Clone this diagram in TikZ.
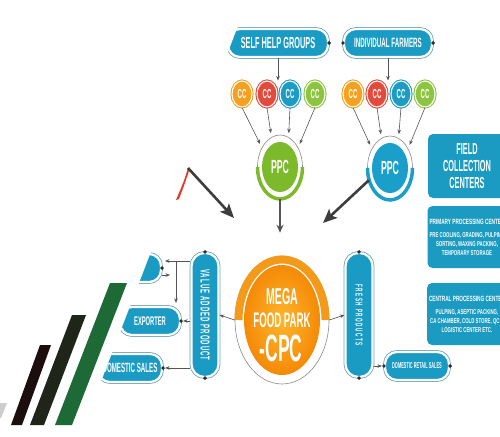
\documentclass[tikz,border=0pt]{standalone}
\usepackage{fontspec}
\usepackage{graphicx}
\usepackage{tikz}
\usetikzlibrary{arrows.meta,shapes.geometric}
\newfontfamily\condfont[FakeStretch=0.46]{Liberation Sans}
\newfontfamily\slimfont[FakeStretch=0.62]{Liberation Sans}
\definecolor{PillTeal}{HTML}{1A9BC4}
\definecolor{PillEdge}{HTML}{6FA3B5}
\definecolor{BoxTeal}{HTML}{1B9BC2}
\definecolor{CCOrange}{HTML}{F5A01E}
\definecolor{CCRed}{HTML}{E4493B}
\definecolor{CCBlue}{HTML}{1C9CC4}
\definecolor{CCGreen}{HTML}{8CC33F}
\definecolor{PPCGreen}{HTML}{7CBA2C}
\definecolor{PPCBlue}{HTML}{1A9FCB}
\definecolor{HubLight}{HTML}{FDB52B}
\definecolor{HubDeep}{HTML}{F58A07}
\definecolor{HubBand}{HTML}{F39A1A}
\definecolor{RingGray}{HTML}{8A8A8A}
\definecolor{LinkGray}{HTML}{555555}
\definecolor{HeavyInk}{HTML}{3D3D3D}
\definecolor{DotInk}{HTML}{2E2E2E}
\definecolor{AccentRed}{HTML}{E23B2A}
\definecolor{StripeGreen}{HTML}{1D6A36}
\definecolor{StripeDark}{HTML}{1F2519}
\definecolor{StripeBlack}{HTML}{1B0E0C}
\definecolor{StripeGray}{HTML}{CDCDCD}
\newcommand{\PillFont}[1]{\condfont\bfseries\fontsize{#1}{#1}\selectfont}
\newcommand{\BoxFont}{\slimfont\bfseries\fontsize{7}{9}\selectfont}
\newcommand{\SideLabel}[3]{\rotatebox{-90}{\PillFont{#1}\addfontfeatures{LetterSpace=#2}#3}}
\tikzset{
  diagram/.style={x=1pt,y=-1pt,text=white,>={Stealth[length=4.5pt,width=3.6pt]}},
  pill/.style={rectangle,rounded corners=12pt,fill=PillTeal,draw=white,line width=2.2pt,
    preaction={draw=PillEdge,line width=3.8pt},minimum height=28pt,inner sep=0pt},
  sidepill/.style={pill,rounded corners=13pt,minimum width=27pt,minimum height=124pt},
  ccnode/.style={ellipse,fill=#1,draw=white,line width=1.1pt,preaction={draw=#1,line width=3.2pt},
    minimum width=20pt,minimum height=26pt,inner sep=0pt,font=\PillFont{13}},
  ppcdisc/.style={ellipse,fill=#1,minimum width=36pt,minimum height=50pt,inner sep=0pt,font=\PillFont{19}},
  ring/.style={ellipse,draw=RingGray,line width=0.6pt,inner sep=0pt},
  infobox/.style={rectangle,rounded corners=5pt,fill=BoxTeal,minimum width=78pt,align=center,inner sep=2pt},
  dot/.style={circle,fill=DotInk,inner sep=0pt,minimum size=3.8pt},
  link/.style={->,draw=LinkGray,line width=0.6pt},
  heavy/.style={-{Stealth[length=14pt,width=12pt,inset=3pt]},draw=HeavyInk,line width=2.6pt},
}
\begin{document}
\begin{tikzpicture}[diagram]
  \useasboundingbox (0,0) rectangle (500,436);
  \clip (0,0) rectangle (500,436);

  % sources
  \node[pill,minimum width=100pt,font=\PillFont{16}] (shg) at (278,43) {SELF HELP GROUPS};
  \node[pill,minimum width=88pt,font=\PillFont{13.5}] (farmers) at (388,43) {INDIVIDUAL FARMERS};
  \node[dot] (shgdot) at (shg.east) {};
  \node[dot] (farmdotL) at (farmers.west) {};
  \node[dot] (farmdotR) at (farmers.east) {};

  % collection centres
  \node[ccnode=CCOrange] (ccA1) at (242,94) {CC};
  \node[ccnode=CCRed] (ccA2) at (267,94) {CC};
  \node[ccnode=CCBlue] (ccA3) at (290,94) {CC};
  \node[ccnode=CCGreen] (ccA4) at (315,94) {CC};
  \node[ccnode=CCOrange] (ccB1) at (353,94) {CC};
  \node[ccnode=CCRed] (ccB2) at (377,94) {CC};
  \node[ccnode=CCBlue] (ccB3) at (401,94) {CC};
  \node[ccnode=CCGreen] (ccB4) at (425,94) {CC};
  \draw[link] (shg.south) -- (shg.south |- ccA2.north);
  \draw[link] (farmers.south) -- (farmers.south |- ccB1.north);

  % primary processing centres
  \node[ppcdisc=PPCGreen] (ppcA) at (280,167) {PPC};
  \node[ring,minimum width=45pt,minimum height=64pt] (ppcAring) at (ppcA) {};
  \draw[PPCGreen,line width=3.5pt] ([shift={(0:22.5)}]ppcA.center) arc[start angle=0,end angle=180,x radius=22.5,y radius=32];
  \node[ppcdisc=PPCBlue] (ppcB) at (390,168) {PPC};
  \node[ring,minimum width=45pt,minimum height=64pt] (ppcBring) at (ppcB) {};
  \draw[PPCBlue,line width=3.5pt] ([shift={(0:22.5)}]ppcB.center) arc[start angle=0,end angle=180,x radius=22.5,y radius=32];

  \draw[link,shorten >=4pt] (ccA1.south) -- (ppcAring.133);
  \draw[link,shorten >=4pt] (ccA2.south) -- (ppcAring.106);
  \draw[link,shorten >=4pt] (ccA3.south) -- (ppcAring.74);
  \draw[link,shorten >=4pt] (ccA4.south) -- (ppcAring.47);
  \draw[link,shorten >=4pt] (ccB1.south) -- (ppcBring.133);
  \draw[link,shorten >=4pt] (ccB2.south) -- (ppcBring.106);
  \draw[link,shorten >=4pt] (ccB3.south) -- (ppcBring.74);
  \draw[link,shorten >=4pt] (ccB4.south) -- (ppcBring.47);

  % central processing centre
  \node[ring,minimum width=94pt,minimum height=128pt] (cpcring) at (282,320) {};
  \node[ellipse,inner color=HubLight,outer color=HubDeep,minimum width=76pt,minimum height=110pt] (cpc) at (282,320) {};
  \draw[HubBand,line width=8pt] ([shift={(180:43.5)}]cpc.center) arc[start angle=180,end angle=360,x radius=43.5,y radius=60.5];
  \node[font=\PillFont{23}] (cpcline1) at (282,297) {MEGA};
  \node[font=\PillFont{21}] (cpcline2) at (282,320) {FOOD PARK};
  \node[font=\PillFont{38}] (cpcline3) at (281,348) {-CPC};

  \draw[link,line width=1.3pt,-{Stealth[length=8pt,width=7pt]},shorten >=23pt]
    (ppcAring.south) -- (ppcAring.south |- cpcring.north);
  \coordinate (bluetip) at (323,223);
  \draw[heavy] (ppcBring.210) -- (bluetip);
  \coordinate (redcorner) at (188,168);
  \coordinate (lefttip) at (234,218);
  \fill[AccentRed] (redcorner) .. controls (184,181) .. (176,200) -- (179,199) .. controls (185,183) .. (189,171) -- cycle;
  \draw[heavy] (redcorner) -- (lefttip);

  % product streams
  \node[sidepill] (vap) at (205,315) {\SideLabel{13}{8}{VALUE\hspace{3pt}ADDED\hspace{3pt}PRODUCT}};
  \node[sidepill] (fresh) at (359,315) {\SideLabel{10}{15}{FRESH\hspace{3pt}PRODUCTS}};
  \node[dot] (vapdotT) at (vap.north) {};
  \node[dot] (vapdotB) at (vap.south) {};
  \node[dot] (freshdotT) at (fresh.north) {};
  \node[dot] (freshdotB) at (fresh.south) {};
  \draw[link] (cpcring.west) -- (vap.east);
  \draw[link] (cpcring.east) -- (fresh.west);

  % outlets
  \node[pill,minimum width=58pt] (topout) at (132,268) {};
  \node[pill,minimum width=60pt,font=\PillFont{12.5}] (exporter) at (150,321) {EXPORTER};
  \node[pill,minimum width=64pt,font=\PillFont{13.4}] (domestic) at (130,368) {DOMESTIC SALES};
  \node[pill,minimum width=64pt,font=\PillFont{8.5}] (retail) at (417,366) {DOMESTIC RETAIL SALES};
  \node[dot] (topdot) at (topout.east) {};
  \node[dot] (expdot) at (exporter.east) {};
  \node[dot] (domdot) at (domestic.east) {};
  \node[dot] (retdotL) at (retail.west) {};
  \node[dot] (retdotR) at (retail.east) {};

  \coordinate (topfeed) at (165,261);
  \coordinate (splitpt) at (176,261);
  \coordinate (stubend) at (170,275);
  \draw[link] (vap.west |- topfeed) -- (topfeed);
  \draw[link,shorten >=3pt] (splitpt) -- (splitpt |- exporter.north);
  \draw[link] (topout.east |- stubend) -- (stubend);
  \draw[link,shorten >=2pt] (vap.west |- exporter.east) -- (exporter.east);
  \draw[link,shorten >=2pt] (vap.west |- domestic.east) -- (domestic.east);
  \draw[link,shorten >=2pt] (fresh.east |- retail.west) -- (retail.west);

  % diagonal cut and stripes
  \fill[white] (0,0) -- (248,0) -- (80,436) -- (0,436) -- cycle;
  \fill[StripeGray] (0,403) -- (7,403) -- (1,418) -- (0,418) -- cycle;
  \fill[StripeBlack] (40,345) -- (51,345) -- (22,425) -- (11,425) -- cycle;
  \fill[StripeDark] (72,315) -- (86,315) -- (44,425) -- (30,425) -- cycle;
  \fill[StripeGreen] (110,283) -- (127,283) -- (72,425) -- (55,425) -- cycle;

  % centre types
  \node[infobox,minimum height=64pt,font=\condfont\bfseries\fontsize{16}{17}\selectfont] (fieldbox) at (467,166)
    {FIELD\\COLLECTION\\CENTERS};
  \node[infobox,minimum height=62pt,font=\BoxFont] (primbox) at (467,237)
    {{\fontsize{7.6}{9}\selectfont PRIMARY PROCESSING CENTER}\\[4pt]
     PRE COOLING, GRADING, PULPING\\SORTING, WAXING PACKING,\\TEMPORARY STORAGE};
  \node[infobox,minimum height=62pt,font=\BoxFont] (centbox) at (467,314)
    {{\fontsize{7.6}{9}\selectfont CENTRAL PROCESSING CENTER}\\[4pt]
     PULPING, ASEPTIC PACKING,\\CA CHAMBER, COLD STORE, QC \&\\LOGISTIC CENTER ETC.};
\end{tikzpicture}
\end{document}
